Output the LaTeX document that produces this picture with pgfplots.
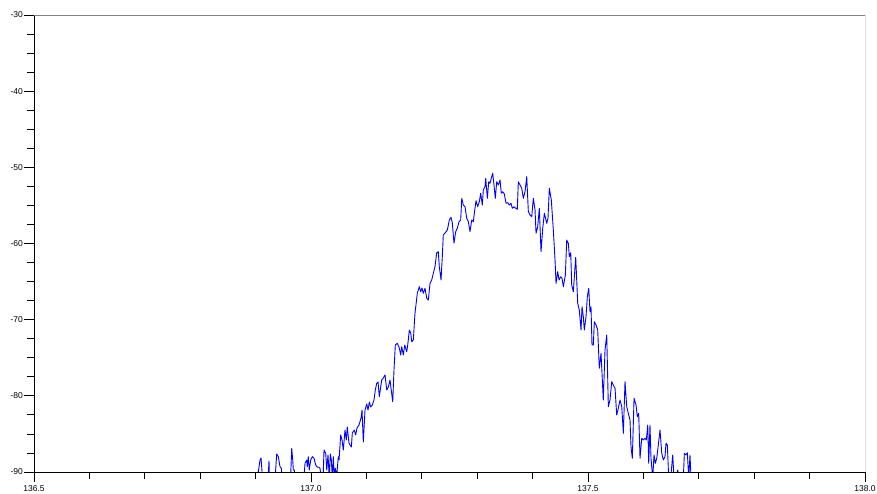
\documentclass[border=0pt]{standalone}
\usepackage{pgfplots}
\pgfplotsset{compat=1.18}
\usepackage{fontspec}
\setmainfont{Liberation Sans}
\begin{document}
\begin{tikzpicture}[x=1pt,y=1pt]
\begin{axis}[
  name=ax,
  scale only axis,
  width=831pt, height=457pt,
  xmin=136.5, xmax=138.0, ymin=-90, ymax=-30,
  axis x line*=bottom, axis y line*=left,
  axis line style={black, line width=0.8pt, -},
  xtick={136.5,137.0,137.5,138.0},
  ytick={-90,-80,-70,-60,-50,-40,-30},
  minor x tick num=4, minor y tick num=3,
  tick align=outside,
  major tick length=10pt, minor tick length=7pt,
  tick style={black, line width=0.8pt},
  /pgf/number format/assume math mode=true,
  xticklabel style={font=\fontsize{8.5}{10}\selectfont, /pgf/number format/.cd, fixed, fixed zerofill, precision=1},
  yticklabel style={font=\fontsize{8.5}{10}\selectfont, inner sep=1pt, /pgf/number format/.cd, fixed, precision=0},
  clip=true,
]
\addplot[color={rgb,255:red,0;green,0;blue,255}, line width=0.9pt, line join=round] coordinates {
(136.8899,-91.05) (136.9049,-89.96) (136.9080,-88.42) (136.9098,-88.16) (136.9116,-89.96) (136.9134,-91.05)
(136.9224,-91.05) (136.9242,-88.56) (136.9251,-91.05)
(136.9350,-91.05) (136.9381,-87.64) (136.9410,-87.99) (136.9441,-89.30) (136.9464,-89.51) (136.9486,-91.05)
(136.9630,-91.05) (136.9652,-86.89) (136.9670,-88.42) (136.9681,-89.74) (136.9699,-89.74) (136.9715,-91.05)
(136.9870,-91.05) (136.9892,-88.86) (136.9923,-88.42) (136.9933,-89.30) (136.9951,-87.99) (136.9969,-89.74)
(136.9995,-88.42) (137.0024,-87.99) (137.0054,-88.20) (137.0085,-89.08) (137.0114,-89.38) (137.0145,-89.38)
(137.0163,-89.51) (137.0184,-91.05)
(137.0217,-91.05) (137.0235,-87.11) (137.0266,-87.54) (137.0284,-89.74) (137.0307,-87.77) (137.0330,-90.79)
(137.0349,-87.64) (137.0367,-88.42) (137.0385,-90.79) (137.0403,-87.99) (137.0421,-90.79) (137.0439,-89.51)
(137.0464,-90.53) (137.0493,-87.99) (137.0506,-88.42) (137.0536,-85.14) (137.0560,-85.80) (137.0583,-87.11)
(137.0614,-84.49) (137.0637,-85.80) (137.0655,-84.09) (137.0686,-86.23) (137.0728,-86.72) (137.0746,-84.88)
(137.0782,-84.49) (137.0807,-85.14) (137.0830,-84.22) (137.0867,-83.83) (137.0903,-82.91) (137.0921,-81.86)
(137.0944,-86.06) (137.0975,-81.86) (137.1006,-81.07) (137.1029,-81.86) (137.1053,-80.81) (137.1078,-81.47)
(137.1107,-81.20) (137.1137,-80.55) (137.1161,-79.23) (137.1186,-78.35) (137.1210,-78.18) (137.1233,-80.11)
(137.1276,-77.92) (137.1305,-77.66) (137.1336,-77.26) (137.1367,-79.23) (137.1396,-78.84) (137.1426,-77.92)
(137.1475,-80.77) (137.1498,-76.61) (137.1522,-73.33) (137.1558,-73.10) (137.1594,-73.72) (137.1619,-74.64)
(137.1637,-73.55) (137.1666,-74.64) (137.1692,-73.33) (137.1728,-74.21) (137.1746,-73.33) (137.1775,-71.36)
(137.1800,-71.75) (137.1818,-72.89) (137.1847,-72.67) (137.1877,-69.16) (137.1919,-66.54) (137.1955,-65.67)
(137.1980,-66.33) (137.2004,-65.84) (137.2027,-66.54) (137.2058,-65.88) (137.2089,-67.19) (137.2118,-67.42)
(137.2148,-65.23) (137.2179,-64.79) (137.2208,-63.91) (137.2238,-63.05) (137.2269,-61.21) (137.2298,-61.08)
(137.2316,-63.05) (137.2347,-64.79) (137.2370,-61.73) (137.2388,-58.88) (137.2419,-58.62) (137.2461,-58.23)
(137.2497,-56.91) (137.2527,-56.56) (137.2551,-57.31) (137.2581,-59.97) (137.2612,-58.45) (137.2641,-58.00)
(137.2672,-57.14) (137.2702,-56.91) (137.2721,-54.07) (137.2749,-54.95) (137.2780,-55.17) (137.2811,-56.69)
(137.2840,-57.14) (137.2870,-58.45) (137.2901,-56.91) (137.2930,-57.14) (137.2948,-56.03) (137.2979,-54.38)
(137.3009,-55.17) (137.3038,-54.51) (137.3063,-53.41) (137.3092,-54.95) (137.3110,-52.98) (137.3141,-52.54)
(137.3154,-51.44) (137.3183,-54.07) (137.3208,-51.89) (137.3231,-52.10) (137.3262,-51.23) (137.3280,-50.78)
(137.3303,-52.32) (137.3327,-54.07) (137.3352,-51.89) (137.3381,-52.32) (137.3412,-51.66) (137.3435,-53.41)
(137.3461,-53.20) (137.3489,-53.50) (137.3520,-54.72) (137.3551,-54.64) (137.3580,-54.95) (137.3610,-54.72)
(137.3634,-55.38) (137.3664,-55.17) (137.3695,-55.38) (137.3724,-55.51) (137.3742,-51.89) (137.3773,-52.32)
(137.3804,-52.75) (137.3833,-54.07) (137.3863,-53.20) (137.3894,-51.23) (137.3923,-55.82) (137.3953,-56.26)
(137.3984,-56.48) (137.4013,-54.07) (137.4044,-55.60) (137.4062,-58.66) (137.4092,-57.79) (137.4121,-55.38)
(137.4152,-61.08) (137.4183,-58.00) (137.4212,-56.03) (137.4255,-57.35) (137.4278,-56.65) (137.4302,-52.75)
(137.4338,-54.29) (137.4374,-58.23) (137.4405,-62.17) (137.4423,-65.23) (137.4453,-63.70) (137.4477,-64.79)
(137.4508,-64.36) (137.4531,-64.57) (137.4555,-65.67) (137.4591,-64.14) (137.4616,-59.54) (137.4645,-59.97)
(137.4663,-61.73) (137.4688,-61.21) (137.4706,-65.45) (137.4735,-66.33) (137.4778,-61.81) (137.4796,-64.79)
(137.4814,-67.85) (137.4843,-68.73) (137.4874,-71.36) (137.4892,-68.30) (137.4915,-69.61) (137.4934,-71.36)
(137.4964,-69.61) (137.4988,-66.98) (137.5013,-65.88) (137.5036,-68.95) (137.5054,-68.30) (137.5072,-73.33)
(137.5096,-73.33) (137.5114,-70.27) (137.5145,-70.70) (137.5175,-71.36) (137.5204,-76.38) (137.5235,-74.42)
(137.5276,-80.55) (137.5307,-73.98) (137.5338,-72.01) (137.5367,-81.43) (137.5397,-80.55) (137.5428,-78.14)
(137.5457,-78.58) (137.5488,-79.01) (137.5518,-82.52) (137.5547,-81.64) (137.5578,-80.55) (137.5609,-81.43)
(137.5638,-84.92) (137.5668,-78.14) (137.5699,-81.43) (137.5728,-82.29) (137.5758,-83.17) (137.5776,-86.68)
(137.5800,-88.20) (137.5831,-80.32) (137.5867,-81.20) (137.5890,-82.74) (137.5915,-82.29) (137.5939,-88.20)
(137.5970,-85.57) (137.5999,-85.80) (137.6029,-85.57) (137.6053,-85.80) (137.6078,-83.83) (137.6096,-88.86)
(137.6119,-83.83) (137.6137,-88.20) (137.6168,-90.79) (137.6192,-87.77) (137.6215,-88.86) (137.6241,-88.20)
(137.6269,-86.45) (137.6300,-84.49) (137.6331,-87.54) (137.6360,-88.42) (137.6390,-87.99) (137.6408,-86.23)
(137.6432,-86.45) (137.6457,-90.79) (137.6493,-90.79) (137.6529,-87.77) (137.6553,-90.79) (137.6589,-90.79)
(137.6620,-89.74) (137.6643,-90.79) (137.6721,-90.79) (137.6739,-87.54) (137.6769,-87.77) (137.6793,-87.47)
(137.6818,-90.79) (137.6841,-87.77) (137.6860,-90.79) (137.7022,-91.05)
};
\draw[gray, line width=0.8pt] (rel axis cs:0,1) -- (rel axis cs:1,1);
\draw[black, line width=0.8pt] (rel axis cs:1,0) -- (rel axis cs:1,1);
\end{axis}
\pgfresetboundingbox
\path ([shift={(-34pt,-22pt)}]ax.south west) rectangle ([shift={(12pt,15pt)}]ax.north east);
\end{tikzpicture}
\end{document}
